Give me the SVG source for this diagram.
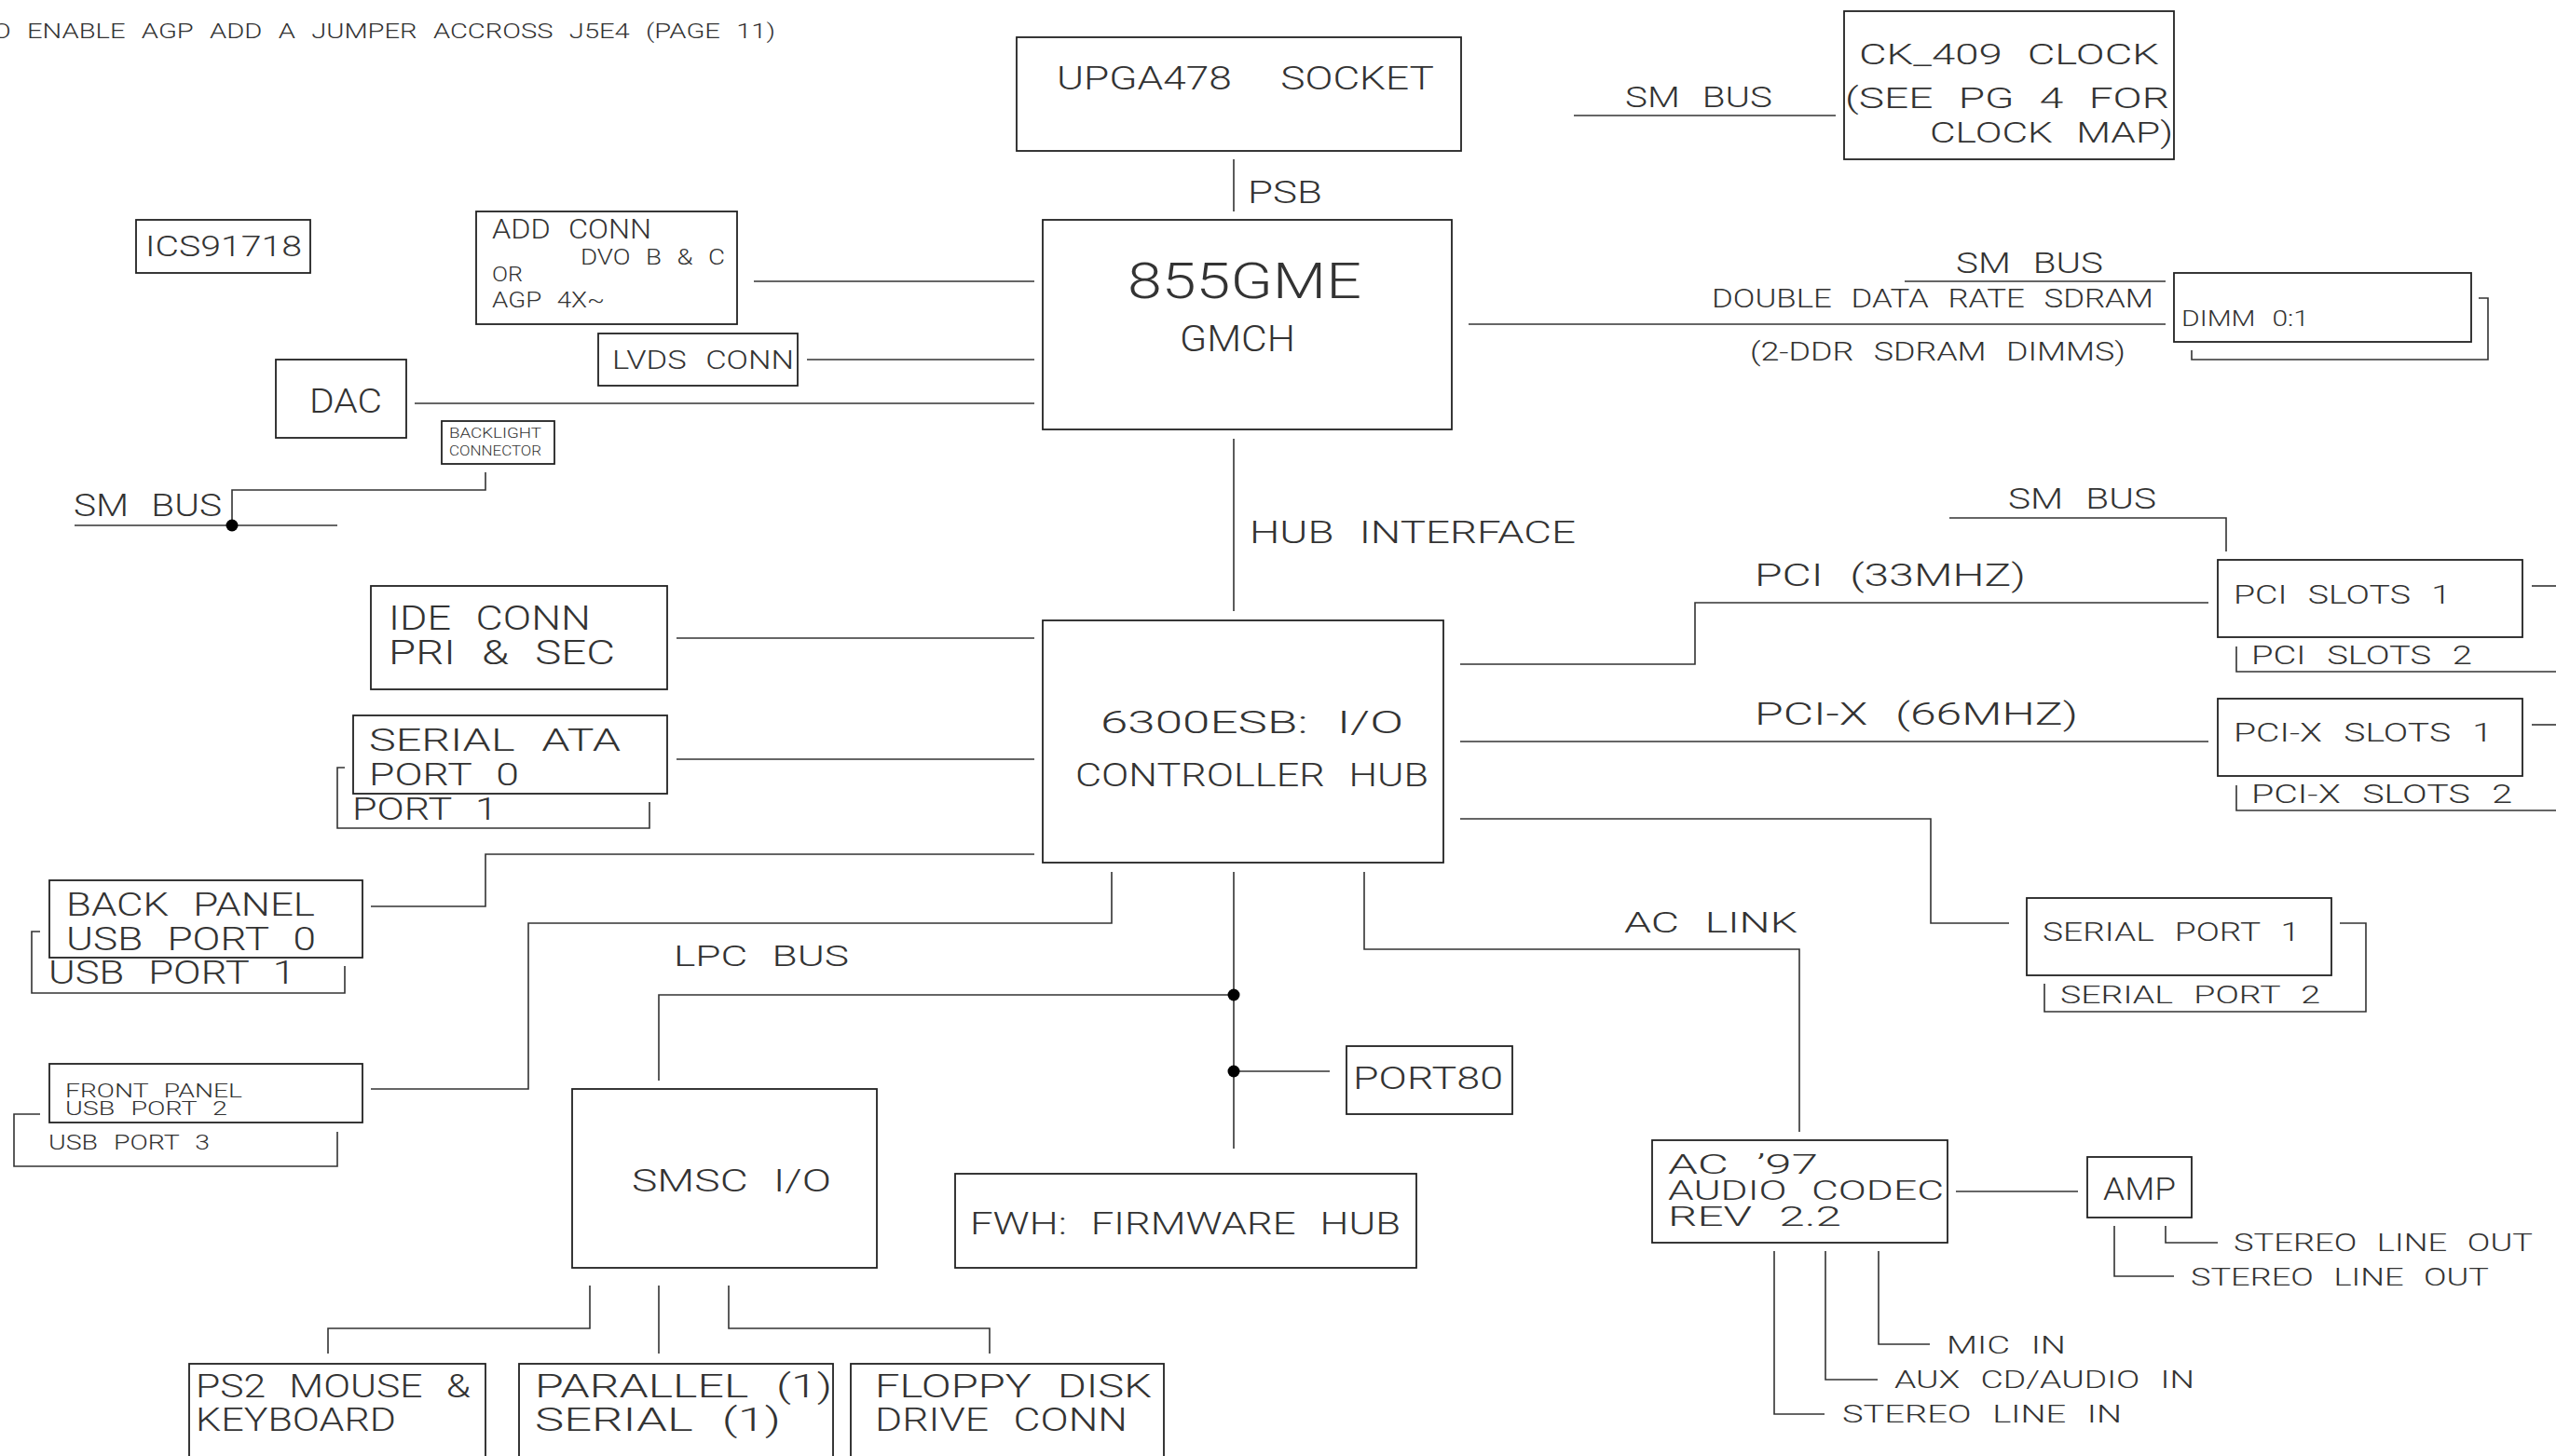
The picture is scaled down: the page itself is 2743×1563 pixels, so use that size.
<svg xmlns="http://www.w3.org/2000/svg" width="2743" height="1563" viewBox="0 0 2743 1563">
<style>
rect.b{fill:none;stroke:#222;stroke-width:1.8}
.c polyline,.c line{fill:none;stroke:#333;stroke-width:1.6}
.br{fill:none;stroke:#333;stroke-width:1.6}
.dot{fill:#000}
text{font-family:"Roboto","DejaVu Sans Mono",sans-serif;font-weight:300;fill:#333;word-spacing:0.35em}
</style>
<rect width="2743" height="1563" fill="#fff"/>
<text x="-25" y="41" font-size="22.5" textLength="857" lengthAdjust="spacingAndGlyphs">TO ENABLE AGP ADD A JUMPER ACCROSS J5E4 (PAGE 11)</text>

<g id="ics91718"><rect class="b" x="146" y="236" width="187" height="57"/><text x="156" y="275" font-size="31" textLength="168" lengthAdjust="spacingAndGlyphs">ICS91718</text></g>
<g id="addconn"><rect class="b" x="511" y="227" width="280" height="121"/>
<text x="528" y="256" font-size="29.5" textLength="171" lengthAdjust="spacingAndGlyphs">ADD CONN</text>
<text x="623" y="284" font-size="24" textLength="155" lengthAdjust="spacingAndGlyphs">DVO B &amp; C</text>
<text x="528" y="302" font-size="22" textLength="33" lengthAdjust="spacingAndGlyphs">OR</text>
<text x="528" y="330" font-size="23.5" textLength="121" lengthAdjust="spacingAndGlyphs">AGP 4X~</text></g>
<g id="lvds"><rect class="b" x="642" y="358" width="214" height="56"/><text x="657" y="396" font-size="28" textLength="195" lengthAdjust="spacingAndGlyphs">LVDS CONN</text></g>
<g id="dac"><rect class="b" x="296" y="386" width="140" height="84"/><text x="332" y="443" font-size="36.5" textLength="78" lengthAdjust="spacingAndGlyphs">DAC</text></g>
<g id="backlight"><rect class="b" x="474" y="452" width="121" height="46"/>
<text x="482" y="470" font-size="14" textLength="99" lengthAdjust="spacingAndGlyphs">BACKLIGHT</text>
<text x="482" y="489" font-size="14" textLength="99" lengthAdjust="spacingAndGlyphs">CONNECTOR</text></g>
<g id="upga478"><rect class="b" x="1091" y="40" width="477" height="122"/><text x="1134" y="96" font-size="35" textLength="405" lengthAdjust="spacingAndGlyphs" xml:space="preserve">UPGA478  SOCKET</text></g>
<g id="gmch"><rect class="b" x="1119" y="236" width="439" height="225"/>
<text x="1210" y="320" font-size="53" textLength="251" lengthAdjust="spacingAndGlyphs">855GME</text>
<text x="1266" y="377" font-size="38" textLength="124" lengthAdjust="spacingAndGlyphs">GMCH</text></g>
<g id="ck409"><rect class="b" x="1979" y="12" width="354" height="159"/>
<text x="1995" y="69" font-size="32" textLength="322" lengthAdjust="spacingAndGlyphs">CK_409 CLOCK</text>
<text x="1980" y="116" font-size="32" textLength="348" lengthAdjust="spacingAndGlyphs">(SEE PG 4 FOR</text>
<text x="2071" y="153" font-size="32" textLength="261" lengthAdjust="spacingAndGlyphs">CLOCK MAP)</text></g>
<g id="dimm"><rect class="b" x="2333" y="293" width="319" height="74"/>
<text x="2341" y="350" font-size="24" textLength="137" lengthAdjust="spacingAndGlyphs">DIMM 0:1</text>
<polyline class="br" points="2660,320 2670,320 2670,386 2352,386 2352,376"/></g>
<g id="ide"><rect class="b" x="398" y="629" width="318" height="111"/>
<text x="417" y="676" font-size="36.5" textLength="217" lengthAdjust="spacingAndGlyphs">IDE CONN</text>
<text x="417" y="713" font-size="36.5" textLength="243" lengthAdjust="spacingAndGlyphs">PRI &amp; SEC</text></g>
<g id="sata"><rect class="b" x="379" y="768" width="337" height="84"/>
<text x="396" y="806" font-size="34" textLength="270" lengthAdjust="spacingAndGlyphs">SERIAL ATA</text>
<text x="396" y="843" font-size="34" textLength="161" lengthAdjust="spacingAndGlyphs">PORT 0</text>
<polyline class="br" points="370,824 362,824 362,889 697,889 697,861"/>
<text x="378" y="880" font-size="34" textLength="156" lengthAdjust="spacingAndGlyphs">PORT 1</text></g>
<g id="backpanel"><rect class="b" x="53" y="945" width="336" height="83"/>
<text x="71" y="983" font-size="35" textLength="267" lengthAdjust="spacingAndGlyphs">BACK PANEL</text>
<text x="71" y="1020" font-size="35" textLength="268" lengthAdjust="spacingAndGlyphs">USB PORT 0</text>
<polyline class="br" points="43,1000 34,1000 34,1066 370,1066 370,1037"/>
<text x="52" y="1056" font-size="35" textLength="265" lengthAdjust="spacingAndGlyphs">USB PORT 1</text></g>
<g id="ich"><rect class="b" x="1119" y="666" width="430" height="260"/>
<text x="1181" y="787" font-size="34" textLength="325" lengthAdjust="spacingAndGlyphs">6300ESB: I/O</text>
<text x="1154" y="844" font-size="35" textLength="379" lengthAdjust="spacingAndGlyphs">CONTROLLER HUB</text></g>
<g id="pci1"><rect class="b" x="2380" y="601" width="327" height="83"/>
<text x="2397" y="648" font-size="27" textLength="233" lengthAdjust="spacingAndGlyphs">PCI SLOTS 1</text>
<line class="br" x1="2717" y1="629" x2="2743" y2="629"/>
<polyline class="br" points="2400,694 2400,721 2743,721"/>
<text x="2416" y="713" font-size="27" textLength="237" lengthAdjust="spacingAndGlyphs">PCI SLOTS 2</text></g>
<g id="pcix1"><rect class="b" x="2380" y="750" width="327" height="83"/>
<text x="2397" y="796" font-size="27" textLength="278" lengthAdjust="spacingAndGlyphs">PCI-X SLOTS 1</text>
<line class="br" x1="2717" y1="778" x2="2743" y2="778"/>
<polyline class="br" points="2400,843 2400,870 2743,870"/>
<text x="2416" y="862" font-size="27" textLength="280" lengthAdjust="spacingAndGlyphs">PCI-X SLOTS 2</text></g>
<g id="serial1"><rect class="b" x="2175" y="964" width="327" height="83"/>
<text x="2192" y="1010" font-size="27" textLength="276" lengthAdjust="spacingAndGlyphs">SERIAL PORT 1</text>
<polyline class="br" points="2511,991 2539,991 2539,1086 2194,1086 2194,1056"/>
<text x="2211" y="1077" font-size="26" textLength="279" lengthAdjust="spacingAndGlyphs">SERIAL PORT 2</text></g>
<g id="frontpanel"><rect class="b" x="53" y="1142" width="336" height="63"/>
<text x="70" y="1178" font-size="21" textLength="190" lengthAdjust="spacingAndGlyphs">FRONT PANEL</text>
<text x="70" y="1197" font-size="21" textLength="174" lengthAdjust="spacingAndGlyphs">USB PORT 2</text>
<polyline class="br" points="43,1196 15,1196 15,1252 362,1252 362,1215"/>
<text x="52" y="1234" font-size="22.5" textLength="173" lengthAdjust="spacingAndGlyphs">USB PORT 3</text></g>
<g id="smsc"><rect class="b" x="614" y="1169" width="327" height="192"/><text x="678" y="1279" font-size="34" textLength="214" lengthAdjust="spacingAndGlyphs">SMSC I/O</text></g>
<g id="port80"><rect class="b" x="1445" y="1123" width="178" height="73"/><text x="1452" y="1169" font-size="34" textLength="161" lengthAdjust="spacingAndGlyphs">PORT80</text></g>
<g id="fwh"><rect class="b" x="1025" y="1260" width="495" height="101"/><text x="1041" y="1325" font-size="34" textLength="462" lengthAdjust="spacingAndGlyphs">FWH: FIRMWARE HUB</text></g>
<g id="ps2"><rect class="b" x="203" y="1464" width="318" height="140"/>
<text x="210" y="1500" font-size="35" textLength="295" lengthAdjust="spacingAndGlyphs">PS2 MOUSE &amp;</text>
<text x="210" y="1536" font-size="35" textLength="215" lengthAdjust="spacingAndGlyphs">KEYBOARD</text></g>
<g id="parallel"><rect class="b" x="557" y="1464" width="337" height="140"/>
<text x="574" y="1500" font-size="35" textLength="319" lengthAdjust="spacingAndGlyphs">PARALLEL (1)</text>
<text x="574" y="1536" font-size="35" textLength="264" lengthAdjust="spacingAndGlyphs">SERIAL (1)</text></g>
<g id="floppy"><rect class="b" x="913" y="1464" width="336" height="140"/>
<text x="939" y="1500" font-size="35" textLength="297" lengthAdjust="spacingAndGlyphs">FLOPPY DISK</text>
<text x="939" y="1536" font-size="35" textLength="271" lengthAdjust="spacingAndGlyphs">DRIVE CONN</text></g>
<g id="ac97"><rect class="b" x="1773" y="1224" width="317" height="110"/>
<text x="1790" y="1260" font-size="30" textLength="161" lengthAdjust="spacingAndGlyphs">AC ’97</text>
<text x="1790" y="1288" font-size="30" textLength="296" lengthAdjust="spacingAndGlyphs">AUDIO CODEC</text>
<text x="1790" y="1316" font-size="30" textLength="186" lengthAdjust="spacingAndGlyphs">REV 2.2</text></g>
<g id="amp"><rect class="b" x="2240" y="1242" width="112" height="65"/><text x="2257" y="1288" font-size="34" textLength="78" lengthAdjust="spacingAndGlyphs">AMP</text></g>

<g id="labels">
<text x="79" y="554" font-size="34" textLength="159" lengthAdjust="spacingAndGlyphs">SM BUS</text>
<text x="1339" y="218" font-size="34" textLength="80" lengthAdjust="spacingAndGlyphs">PSB</text>
<text x="1744" y="115" font-size="32" textLength="158" lengthAdjust="spacingAndGlyphs">SM BUS</text>
<text x="2099" y="293" font-size="32" textLength="158" lengthAdjust="spacingAndGlyphs">SM BUS</text>
<text x="1837" y="330" font-size="27" textLength="474" lengthAdjust="spacingAndGlyphs">DOUBLE DATA RATE SDRAM</text>
<text x="1878" y="387" font-size="27" textLength="403" lengthAdjust="spacingAndGlyphs">(2-DDR SDRAM DIMMS)</text>
<text x="2155" y="546" font-size="32" textLength="159" lengthAdjust="spacingAndGlyphs">SM BUS</text>
<text x="1341" y="583" font-size="34" textLength="350" lengthAdjust="spacingAndGlyphs">HUB INTERFACE</text>
<text x="1883" y="629" font-size="34" textLength="291" lengthAdjust="spacingAndGlyphs">PCI (33MHZ)</text>
<text x="1883" y="778" font-size="34" textLength="347" lengthAdjust="spacingAndGlyphs">PCI-X (66MHZ)</text>
<text x="723" y="1037" font-size="32" textLength="188" lengthAdjust="spacingAndGlyphs">LPC BUS</text>
<text x="1743" y="1001" font-size="32" textLength="186" lengthAdjust="spacingAndGlyphs">AC LINK</text>
<text x="2397" y="1343" font-size="26" textLength="321" lengthAdjust="spacingAndGlyphs">STEREO LINE OUT</text>
<text x="2351" y="1380" font-size="26" textLength="320" lengthAdjust="spacingAndGlyphs">STEREO LINE OUT</text>
<text x="2089" y="1453" font-size="26" textLength="128" lengthAdjust="spacingAndGlyphs">MIC IN</text>
<text x="2033" y="1490" font-size="26" textLength="322" lengthAdjust="spacingAndGlyphs">AUX CD/AUDIO IN</text>
<text x="1977" y="1527" font-size="26" textLength="300" lengthAdjust="spacingAndGlyphs">STEREO LINE IN</text>
</g>

<g id="connectors" class="c">
<line x1="1324" y1="171" x2="1324" y2="227"/>
<line x1="1324" y1="471" x2="1324" y2="656"/>
<line x1="809" y1="302" x2="1110" y2="302"/>
<line x1="866" y1="386" x2="1110" y2="386"/>
<line x1="445" y1="433" x2="1110" y2="433"/>
<polyline points="521,507 521,526 249,526 249,564"/>
<line x1="80" y1="564" x2="362" y2="564"/>
<line x1="1689" y1="124" x2="1970" y2="124"/>
<line x1="2044" y1="302" x2="2324" y2="302"/>
<line x1="1576" y1="348" x2="2324" y2="348"/>
<polyline points="2092,556 2389,556 2389,592"/>
<line x1="726" y1="685" x2="1110" y2="685"/>
<line x1="726" y1="815" x2="1110" y2="815"/>
<polyline points="398,973 521,973 521,917 1110,917"/>
<polyline points="1193,936 1193,991 567,991 567,1169 398,1169"/>
<line x1="1324" y1="936" x2="1324" y2="1233"/>
<polyline points="1324,1068 707,1068 707,1160"/>
<line x1="1324" y1="1150" x2="1427" y2="1150"/>
<polyline points="1464,936 1464,1019 1931,1019 1931,1215"/>
<polyline points="1567,713 1819,713 1819,647 2370,647"/>
<line x1="1567" y1="796" x2="2370" y2="796"/>
<polyline points="1567,879 2072,879 2072,991 2156,991"/>
<polyline points="633,1380 633,1426 352,1426 352,1453"/>
<line x1="707" y1="1380" x2="707" y2="1453"/>
<polyline points="782,1380 782,1426 1062,1426 1062,1453"/>
<line x1="2099" y1="1279" x2="2230" y2="1279"/>
<polyline points="2324,1316 2324,1334 2380,1334"/>
<polyline points="2269,1316 2269,1370 2333,1370"/>
<polyline points="2016,1343 2016,1443 2071,1443"/>
<polyline points="1959,1343 1959,1481 2015,1481"/>
<polyline points="1904,1343 1904,1518 1958,1518"/>
<circle class="dot" cx="249" cy="564" r="6.5"/>
<circle class="dot" cx="1324" cy="1068" r="6.5"/>
<circle class="dot" cx="1324" cy="1150" r="6.5"/>
</g>
</svg>
